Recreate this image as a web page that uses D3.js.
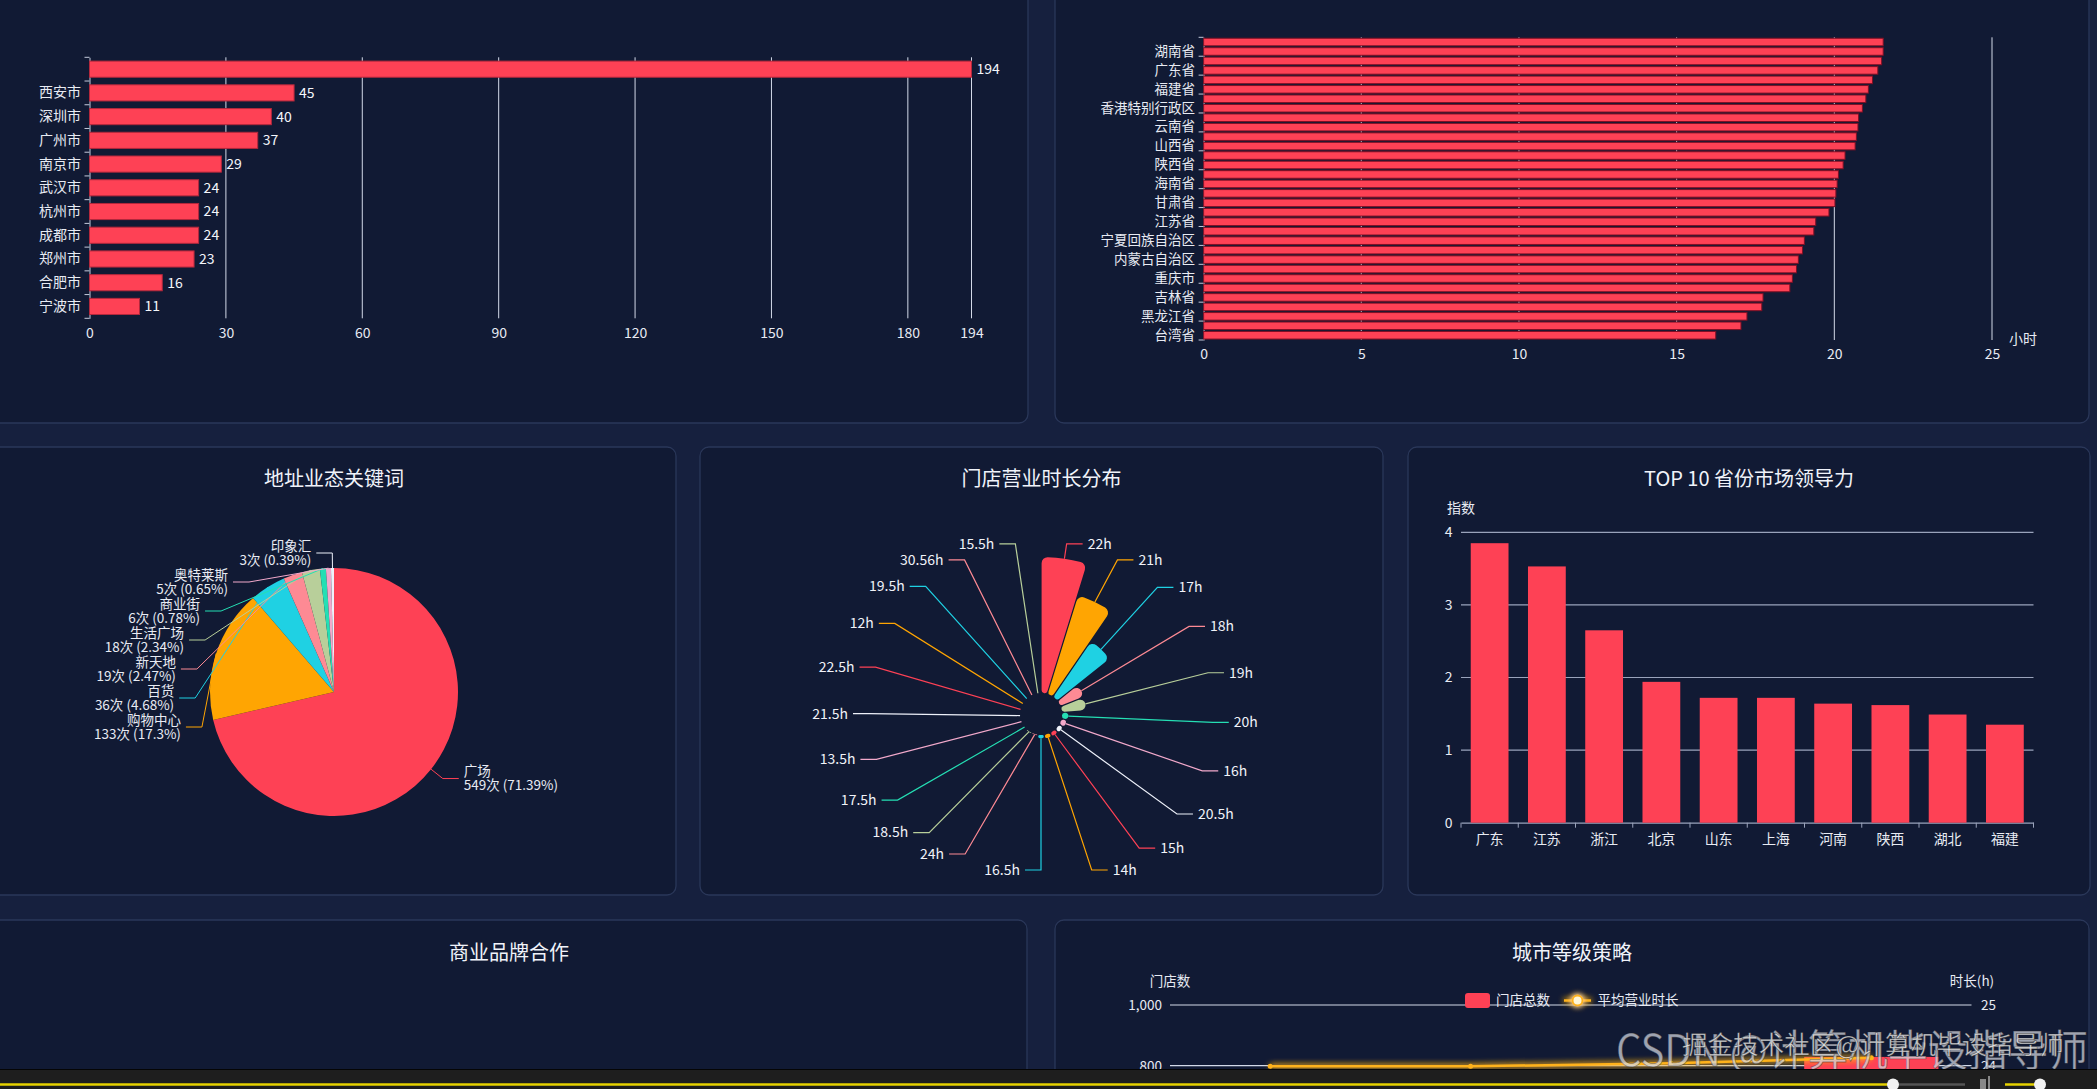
<!DOCTYPE html>
<html><head><meta charset="utf-8">
<script src="https://cdn.jsdelivr.net/npm/d3@7"></script>
<style>
html,body{margin:0;padding:0;background:#16203e;overflow:hidden}
svg{display:block}
</style></head><body>
<svg id="c" width="2097" height="1089"></svg>
<script>
// ---------------- data ----------------
const cityNames = ["", "西安市", "深圳市", "广州市", "南京市", "武汉市", "杭州市", "成都市", "郑州市", "合肥市", "宁波市"];
const cityCounts = [194, 45, 40, 37, 29, 24, 24, 24, 23, 16, 11];
const cityTicks = [0, 30, 60, 90, 120, 150, 180, 194];

const provinceHourLabels = ["", "湖南省", "", "广东省", "", "福建省", "", "香港特别行政区", "", "云南省", "", "山西省", "", "陕西省", "", "海南省", "", "甘肃省", "", "江苏省", "", "宁夏回族自治区", "", "内蒙古自治区", "", "重庆市", "", "吉林省", "", "黑龙江省", "", "台湾省"];
const provinceHours = [21.55, 21.55, 21.5, 21.38, 21.21, 21.08, 21.0, 20.89, 20.77, 20.75, 20.7, 20.66, 20.34, 20.28, 20.13, 20.09, 20.05, 20.02, 19.83, 19.41, 19.35, 19.05, 18.99, 18.86, 18.8, 18.67, 18.59, 17.74, 17.7, 17.23, 17.04, 16.24];
const hourTicks = [0, 5, 10, 15, 20, 25];

const keywordNames = ["广场", "购物中心", "百货", "新天地", "生活广场", "商业街", "奥特莱斯", "印象汇"];
const keywordCounts = [549, 133, 36, 19, 18, 6, 5, 3];

const hourNames = ["22h", "21h", "17h", "18h", "19h", "20h", "16h", "20.5h", "15h", "14h", "16.5h", "24h", "18.5h", "17.5h", "13.5h", "21.5h", "22.5h", "12h", "19.5h", "30.56h", "15.5h"];
const hourCounts = [250, 190, 124, 48, 46, 13, 11, 9, 8, 8, 7, 2, 2, 1, 1, 1, 1, 1, 1, 1, 1];

const top10Provinces = ["广东", "江苏", "浙江", "北京", "山东", "上海", "河南", "陕西", "湖北", "福建"];
const top10Index = [3.85, 3.53, 2.65, 1.94, 1.72, 1.72, 1.64, 1.62, 1.49, 1.35];
const top10Ticks = [0, 1, 2, 3, 4];

const tierNames = ["一线城市", "新一线城市", "二线城市", "三线及以下"];
const tierStores = [160, 250, 310, 829];
const tierHours = [23.99, 23.99, 24.04, 24.13];
const tierStoreTicks = [0, 200, 400, 600, 800, 1000];
const tierHourTicks = [20, 21, 22, 23, 24, 25];

const palette = ["#fe4155", "#ffa502", "#1fd1e3", "#fd8a94", "#b8cf9a", "#25dfb4", "#f2a9cb", "#eef1fa"];

// ---------------- setup ----------------
const FONT = '"Noto Sans CJK SC","Noto Sans",sans-serif';
const RED = "#fe4155";
const TXT = "#e8ebf3";
const GRID = "#d3d9e8";
const VISIBLE_BOTTOM = 1069;
const svg = d3.select("#c").attr("font-family", FONT);

const defs = svg.append("defs");
const glow = defs.append("filter").attr("id", "glow").attr("filterUnits", "userSpaceOnUse")
  .attr("x", 0).attr("y", 0).attr("width", 2097).attr("height", 1089);
glow.append("feGaussianBlur").attr("in", "SourceGraphic").attr("stdDeviation", 3).attr("result", "b");
const gm = glow.append("feMerge");
gm.append("feMergeNode").attr("in", "b");
gm.append("feMergeNode").attr("in", "b");
gm.append("feMergeNode").attr("in", "SourceGraphic");

// panels
const panelBoxes = [[-10, -30, 1038, 453], [1055, -30, 1034, 453], [-10, 447, 686, 448], [700, 447, 683, 448], [1408, 447, 682, 448], [-10, 920, 1037, 220], [1055, 920, 1034, 220]];
svg.append("g").selectAll("rect").data(panelBoxes).join("rect")
  .attr("x", d => d[0]).attr("y", d => d[1]).attr("width", d => d[2]).attr("height", d => d[3])
  .attr("rx", 9).attr("fill", "#111a34").attr("stroke", "#2a3759").attr("stroke-width", 1.3);

function title(x, y, t) {
  svg.append("text").attr("x", x).attr("y", y).attr("dy", "0.36em").attr("text-anchor", "middle")
    .attr("font-size", 20).attr("fill", "#f0f3fa").text(t);
}
title(334, 479, "地址业态关键词");
title(1041.5, 479, "门店营业时长分布");
title(1749, 479, "TOP 10 省份市场领导力");
title(509, 953, "商业品牌合作");
title(1572, 953, "城市等级策略");

function styleAxisText(sel, size) {
  sel.selectAll("text").attr("fill", TXT).attr("font-size", size || 14).attr("font-family", FONT);
}

// ---------------- chart 1: city top bars ----------------
{
  const g = svg.append("g");
  const x = d3.scaleLinear().domain([0, 194]).range([89.5, 971.5]);
  const y = d3.scaleBand().domain(d3.range(cityNames.length)).range([57.3, 318.3]).paddingInner(0.32).paddingOuter(0.16);
  g.selectAll(".grid").data(cityTicks.filter(t => t > 0)).join("line")
    .attr("x1", d => x(d)).attr("x2", d => x(d)).attr("y1", 57.3).attr("y2", 318.3)
    .attr("stroke", GRID).attr("stroke-width", 1);
  const ax = g.append("g").attr("transform", "translate(0,318.3)")
    .call(d3.axisBottom(x).tickValues(cityTicks).tickSize(0).tickPadding(9.5).tickFormat(d3.format("d")));
  ax.select(".domain").remove();
  styleAxisText(ax);
  const ay = g.append("g").attr("transform", "translate(89.5,0)")
    .call(d3.axisLeft(y).tickSize(0).tickSizeOuter(0).tickPadding(8.5).tickFormat(i => cityNames[i]));
  ay.select(".domain").attr("stroke", "#c4cadb");
  styleAxisText(ay);
  g.selectAll(".bt").data(d3.range(cityNames.length + 1)).join("line")
    .attr("x1", 84.5).attr("x2", 89.5)
    .attr("y1", k => y.range()[0] + k * y.step()).attr("y2", k => y.range()[0] + k * y.step())
    .attr("stroke", "#c4cadb");
  g.selectAll(".bar").data(cityCounts).join("rect")
    .attr("x", x(0)).attr("y", (d, i) => y(i)).attr("width", d => x(d) - x(0)).attr("height", y.bandwidth())
    .attr("fill", RED).attr("stroke", "#b3283c").attr("stroke-width", 1);
  g.selectAll(".val").data(cityCounts).join("text")
    .attr("x", d => x(d) + 5).attr("y", (d, i) => y(i) + y.bandwidth() / 2).attr("dy", "0.35em")
    .attr("font-size", 14).attr("fill", "#f4f6fb").text(d => d);
}

// ---------------- chart 2: province hours ----------------
{
  const g = svg.append("g");
  const x = d3.scaleLinear().domain([0, 25]).range([1203.6, 1992]);
  const y = d3.scaleBand().domain(d3.range(provinceHours.length)).range([37.3, 340]).paddingInner(0.2).paddingOuter(0.1);
  g.selectAll(".grid").data(hourTicks.filter(t => t > 0)).join("line")
    .attr("x1", d => x(d)).attr("x2", d => x(d)).attr("y1", 37.3).attr("y2", 340)
    .attr("stroke", GRID).attr("stroke-width", 1);
  const ax = g.append("g").attr("transform", "translate(0,340)")
    .call(d3.axisBottom(x).tickValues(hourTicks).tickSize(0).tickPadding(9).tickFormat(d3.format("d")));
  ax.select(".domain").remove();
  styleAxisText(ax);
  const ay = g.append("g").attr("transform", "translate(1203.6,0)")
    .call(d3.axisLeft(y).tickSize(0).tickSizeOuter(0).tickPadding(8.6).tickFormat(i => provinceHourLabels[i]));
  ay.select(".domain").attr("stroke", "#c4cadb");
  styleAxisText(ay, 13.5);
  const step = (340 - 37.3) / provinceHours.length;
  g.selectAll(".bt").data(d3.range(0, provinceHours.length + 1, 2)).join("line")
    .attr("x1", 1198.6).attr("x2", 1203.6)
    .attr("y1", k => 37.3 + k * step).attr("y2", k => 37.3 + k * step).attr("stroke", "#c4cadb");
  g.selectAll(".bar").data(provinceHours).join("rect")
    .attr("x", x(0)).attr("y", (d, i) => y(i)).attr("width", d => x(d) - x(0)).attr("height", y.bandwidth())
    .attr("fill", RED).attr("stroke", "#7e1025").attr("stroke-width", 1);
  g.append("text").attr("x", 2009).attr("y", 339).attr("dy", "0.35em").attr("font-size", 14)
    .attr("fill", TXT).text("小时");
}

// ---------------- label layout (echarts-like) ----------------
function layoutSide(list, cx, cy, R, h, minB, maxB) {
  const n = list.length;
  if (n < 2) return;
  list.sort((a, b) => a.y - b.y);
  let adjusted = false, last = -Infinity;
  for (const it of list) {
    const d = (it.y - h / 2) - last;
    if (d < 0) { it.y -= d; adjusted = true; }
    last = it.y + h / 2;
  }
  function squeeze(delta, maxP) {
    const gaps = []; let tot = 0;
    for (let i = 1; i < n; i++) {
      const gg = Math.max(list[i].y - h / 2 - (list[i - 1].y + h / 2), 0);
      gaps.push(gg); tot += gg;
    }
    if (!tot) return;
    const p = Math.min(Math.abs(delta) / tot, maxP);
    if (delta > 0) {
      for (let i = 0; i < n - 1; i++) { const mv = gaps[i] * p; for (let j = 0; j <= i; j++) list[j].y += mv; }
    } else {
      for (let i = n - 1; i > 0; i--) { const mv = gaps[i - 1] * p; for (let j = i; j < n; j++) list[j].y -= mv; }
    }
    adjusted = true;
  }
  const minGap = list[0].y - h / 2 - minB;
  if (minGap < 0) squeeze(-minGap, 0.8);
  const maxGap = maxB - (list[n - 1].y + h / 2);
  if (maxGap < 0) squeeze(maxGap, 0.8);
  if (!adjusted) return;
  const semis = [{ list: [], maxY: 0, rB: R }, { list: [], maxY: 0, rB: R }];
  for (const it of list) {
    const s = it.y > cy ? semis[1] : semis[0];
    const dy = Math.abs(it.y - cy);
    if (dy >= s.maxY) {
      const dx = it.ax - cx;
      s.rB = Math.abs(dx) < R ? Math.sqrt(dy * dy / (1 - dx * dx / R / R)) : R;
      s.maxY = dy;
    }
    s.list.push(it);
  }
  for (const s of semis) for (const it of s.list) {
    const dy = Math.abs(it.y - cy);
    const dx = Math.sqrt(Math.max(0, 1 - dy * dy / (s.rB * s.rB))) * R;
    it.ax = cx + dx * it.dir;
  }
}
function buildLabels(arcs, radiusOf, cx, cy, R, h, minB, maxB) {
  const items = arcs.map((a, i) => {
    const ang = (a.startAngle + a.endAngle) / 2;
    const dx = Math.sin(ang), dy = -Math.cos(ang);
    const r = radiusOf(a, i);
    return { i, dx, dy, dir: dx < 1e-9 ? -1 : 1, ex: cx + r * dx, ey: cy + r * dy, ax: cx + R * dx, y: cy + R * dy };
  });
  layoutSide(items.filter(d => d.dir < 0), cx, cy, R, h, minB, maxB);
  layoutSide(items.filter(d => d.dir > 0), cx, cy, R, h, minB, maxB);
  return items;
}

// ---------------- chart 3: pie ----------------
{
  const g = svg.append("g");
  const cx = 334, cy = 692, r = 124, len2 = 16;
  const total = d3.sum(keywordCounts);
  const arcs = d3.pie().sort(null).value(d => d)(keywordCounts);
  const arc = d3.arc().innerRadius(0).outerRadius(r);
  g.selectAll("path").data(arcs).join("path").attr("transform", `translate(${cx},${cy})`)
    .attr("d", arc).attr("fill", (d, i) => palette[i % palette.length]);
  const items = buildLabels(arcs, () => r, cx, cy, r + 15, 29, 500, 878);
  g.selectAll(".ll").data(items).join("polyline")
    .attr("points", d => `${d.ex},${d.ey} ${d.ax},${d.y} ${d.ax + d.dir * len2},${d.y}`)
    .attr("fill", "none").attr("stroke", d => palette[d.i % palette.length]).attr("stroke-width", 1);
  const t = g.selectAll(".lt").data(items).join("text")
    .attr("text-anchor", d => d.dir < 0 ? "end" : "start").attr("font-size", 13.5).attr("fill", TXT);
  t.append("tspan").attr("x", d => d.ax + d.dir * (len2 + 5)).attr("y", d => d.y - 7).attr("dy", "0.35em")
    .text(d => keywordNames[d.i]);
  t.append("tspan").attr("x", d => d.ax + d.dir * (len2 + 5)).attr("y", d => d.y + 7).attr("dy", "0.35em")
    .text(d => `${keywordCounts[d.i]}次 (${+(keywordCounts[d.i] / total * 100).toFixed(2)}%)`);
}

// ---------------- chart 4: rose ----------------
{
  const g = svg.append("g");
  const cx = 1041, cy = 714, r0 = 21, r1 = 157, len2 = 16;
  const rs = d3.scaleLinear().domain(d3.extent(hourCounts)).range([r0, r1]);
  const arcs = d3.pie().sort(null).value(() => 1)(hourCounts);
  const arc = d3.arc().innerRadius(r0).outerRadius(d => rs(d.data)).cornerRadius(6).padAngle(0.012).padRadius(100);
  g.selectAll("path").data(arcs).join("path").attr("transform", `translate(${cx},${cy})`)
    .attr("d", arc).attr("fill", (d, i) => palette[i % palette.length]);
  const items = buildLabels(arcs, a => rs(a.data), cx, cy, r1 + 15, 16, 490, 878);
  g.selectAll(".ll").data(items).join("polyline")
    .attr("points", d => `${d.ex},${d.ey} ${d.ax},${d.y} ${d.ax + d.dir * len2},${d.y}`)
    .attr("fill", "none").attr("stroke", d => palette[d.i % palette.length]).attr("stroke-width", 1.2);
  g.selectAll(".lt").data(items).join("text")
    .attr("x", d => d.ax + d.dir * (len2 + 5)).attr("y", d => d.y).attr("dy", "0.35em")
    .attr("text-anchor", d => d.dir < 0 ? "end" : "start").attr("font-size", 14).attr("fill", "#f0f2f8")
    .text(d => hourNames[d.i]);
}

// ---------------- chart 5: top 10 ----------------
{
  const g = svg.append("g");
  const x = d3.scaleBand().domain(top10Provinces).range([1461, 2033.5]).paddingInner(0.34).paddingOuter(0.17);
  const y = d3.scaleLinear().domain([0, 4]).range([822.7, 532.3]);
  g.selectAll(".grid").data(top10Ticks.filter(t => t > 0)).join("line")
    .attr("x1", 1461).attr("x2", 2033.5).attr("y1", d => y(d)).attr("y2", d => y(d))
    .attr("stroke", "#9aa3bb").attr("stroke-width", 1.2);
  const ay = g.append("g").attr("transform", "translate(1461,0)")
    .call(d3.axisLeft(y).tickValues(top10Ticks).tickSize(0).tickPadding(8.5).tickFormat(d3.format("d")));
  ay.select(".domain").remove();
  styleAxisText(ay);
  const ax = g.append("g").attr("transform", "translate(0,822.7)")
    .call(d3.axisBottom(x).tickSize(0).tickSizeOuter(0).tickPadding(11));
  ax.select(".domain").attr("stroke", "#9aa3bb").attr("stroke-width", 1.2);
  styleAxisText(ax);
  g.selectAll(".bt").data(d3.range(top10Provinces.length + 1)).join("line")
    .attr("x1", k => 1461 + k * x.step()).attr("x2", k => 1461 + k * x.step())
    .attr("y1", 822.7).attr("y2", 827.7).attr("stroke", "#9aa3bb");
  g.selectAll(".bar").data(top10Index).join("rect")
    .attr("x", (d, i) => x(top10Provinces[i])).attr("y", d => y(d))
    .attr("width", x.bandwidth()).attr("height", d => y(0) - y(d)).attr("fill", RED);
  g.append("text").attr("x", 1461).attr("y", 508).attr("dy", "0.35em").attr("text-anchor", "middle")
    .attr("font-size", 14).attr("fill", TXT).text("指数");
}

// ---------------- chart 7: city tier ----------------
{
  const g = svg.append("g");
  const x = d3.scaleBand().domain(tierNames).range([1170, 1971.5]).paddingInner(0.33).paddingOuter(0.165);
  const yL = d3.scaleLinear().domain([0, 1000]).range([1308.5, 1005]);
  const yR = d3.scaleLinear().domain([20, 25]).range([1308.5, 1005]);
  const visL = tierStoreTicks.filter(d => yL(d) < VISIBLE_BOTTOM);
  const visR = tierHourTicks.filter(d => yR(d) < VISIBLE_BOTTOM);
  g.selectAll(".grid").data(visL).join("line")
    .attr("x1", 1170).attr("x2", 1971.5).attr("y1", d => yL(d)).attr("y2", d => yL(d))
    .attr("stroke", GRID).attr("stroke-width", 1.2);
  const al = g.append("g").attr("transform", "translate(1170,0)")
    .call(d3.axisLeft(yL).tickValues(visL).tickSize(0).tickPadding(8).tickFormat(d3.format(",")));
  al.select(".domain").remove();
  styleAxisText(al, 13.5);
  const ar = g.append("g").attr("transform", "translate(1971.5,0)")
    .call(d3.axisRight(yR).tickValues(visR).tickSize(0).tickPadding(9.5).tickFormat(d3.format("d")));
  ar.select(".domain").remove();
  styleAxisText(ar, 13.5);
  g.selectAll(".bar").data(tierStores).join("rect")
    .attr("x", (d, i) => x(tierNames[i])).attr("y", d => yL(d))
    .attr("width", x.bandwidth()).attr("height", d => yL(0) - yL(d)).attr("fill", RED);
  const line = d3.line().x((d, i) => x(tierNames[i]) + x.bandwidth() / 2).y(d => yR(d));
  g.append("path").datum(tierHours).attr("d", line).attr("fill", "none")
    .attr("stroke", "#ffb21a").attr("stroke-width", 2.5).attr("filter", "url(#glow)");
  g.selectAll(".pt").data(tierHours).join("circle")
    .attr("cx", (d, i) => x(tierNames[i]) + x.bandwidth() / 2).attr("cy", d => yR(d)).attr("r", 2.5)
    .attr("fill", "#ffb21a");
  g.append("text").attr("x", 1170).attr("y", 981).attr("dy", "0.35em").attr("text-anchor", "middle")
    .attr("font-size", 13.5).attr("fill", TXT).text("门店数");
  g.append("text").attr("x", 1972).attr("y", 981).attr("dy", "0.35em").attr("text-anchor", "middle")
    .attr("font-size", 13.5).attr("fill", TXT).text("时长(h)");
  // legend
  g.append("rect").attr("x", 1465).attr("y", 993).attr("width", 25).attr("height", 15).attr("rx", 3).attr("fill", RED);
  g.append("text").attr("x", 1496).attr("y", 1000.5).attr("dy", "0.35em").attr("font-size", 13.5).attr("fill", TXT).text("门店总数");
  g.append("line").attr("x1", 1564).attr("x2", 1591).attr("y1", 1000.5).attr("y2", 1000.5)
    .attr("stroke", "#ffb21a").attr("stroke-width", 2.5).attr("filter", "url(#glow)");
  g.append("circle").attr("cx", 1577.5).attr("cy", 1000.5).attr("r", 5).attr("fill", "#fff6d8")
    .attr("stroke", "#ffb21a").attr("stroke-width", 2).attr("filter", "url(#glow)");
  g.append("text").attr("x", 1597.5).attr("y", 1000.5).attr("dy", "0.35em").attr("font-size", 13.5).attr("fill", TXT).text("平均营业时长");
}

// ---------------- watermark & video bar ----------------
svg.append("text").attr("x", 1616).attr("y", 1066).attr("font-size", 43).attr("textLength", 472)
  .attr("lengthAdjust", "spacingAndGlyphs").attr("fill", "rgba(214,217,226,0.72)")
  .attr("stroke", "rgba(30,30,30,0.45)").attr("stroke-width", 0.8).text("CSDN @计算机毕设指导师");
svg.append("text").attr("x", 1682).attr("y", 1054).attr("font-size", 25).attr("textLength", 382)
  .attr("lengthAdjust", "spacingAndGlyphs").attr("fill", "rgba(236,236,236,0.82)")
  .attr("stroke", "rgba(20,20,20,0.55)").attr("stroke-width", 0.7).text("掘金技术社区@计算机毕设指导师");

const bar = svg.append("g");
bar.append("rect").attr("x", 0).attr("y", 1069).attr("width", 2097).attr("height", 20).attr("fill", "#1e1e1e");
bar.append("line").attr("x1", 0).attr("x2", 2097).attr("y1", 1069.5).attr("y2", 1069.5).attr("stroke", "#050505");
bar.append("line").attr("x1", 0).attr("x2", 1893).attr("y1", 1084.5).attr("y2", 1084.5).attr("stroke", "#e6d200").attr("stroke-width", 2.5);
bar.append("line").attr("x1", 1893).attr("x2", 1965).attr("y1", 1084.5).attr("y2", 1084.5).attr("stroke", "#555").attr("stroke-width", 2.5);
bar.append("circle").attr("cx", 1893).attr("cy", 1084.5).attr("r", 6).attr("fill", "#f2f2f2");
bar.append("rect").attr("x", 1980).attr("y", 1079).attr("width", 6).attr("height", 10).attr("fill", "#888");
bar.append("rect").attr("x", 1988).attr("y", 1076).attr("width", 2).attr("height", 13).attr("fill", "#888");
bar.append("line").attr("x1", 2005).attr("x2", 2040).attr("y1", 1084.5).attr("y2", 1084.5).attr("stroke", "#e6d200").attr("stroke-width", 2.5);
bar.append("circle").attr("cx", 2040).attr("cy", 1084.5).attr("r", 6).attr("fill", "#f2f2f2");
</script>
</body></html>
